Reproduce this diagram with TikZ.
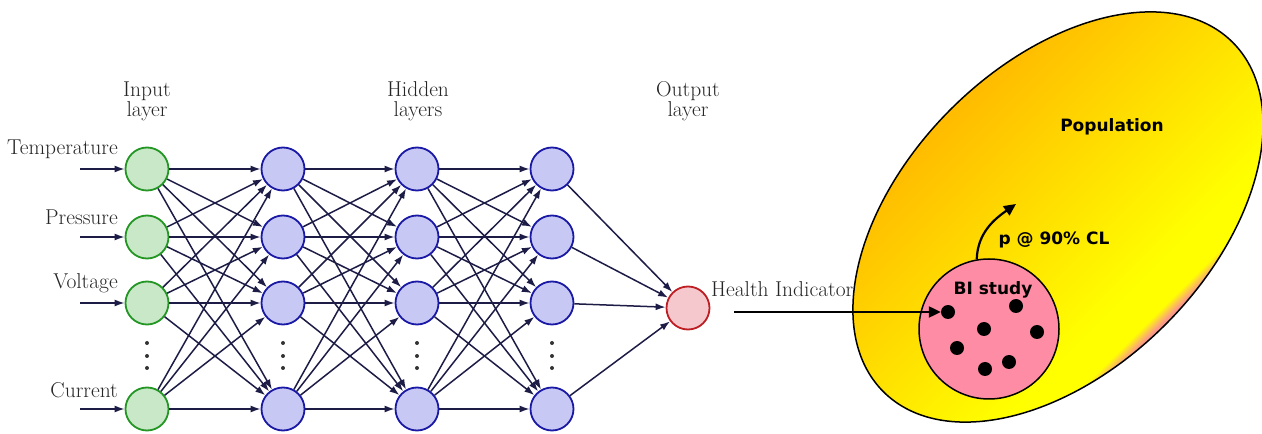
\documentclass[tikz,border=0pt]{standalone}
\usepackage{fontspec}
\newfontfamily\popfont{DejaVu Sans}
\usetikzlibrary{arrows.meta, positioning, calc}

\definecolor{inGreen}{RGB}{35,150,35}
\definecolor{inFill}{RGB}{200,232,200}
\definecolor{hidBlue}{RGB}{25,25,165}
\definecolor{hidFill}{RGB}{200,200,245}
\definecolor{outRed}{RGB}{190,30,35}
\definecolor{outFill}{RGB}{245,200,205}
\definecolor{linkNavy}{RGB}{28,28,70}
\definecolor{popOrange}{RGB}{255,188,0}
\definecolor{popYellow}{RGB}{255,255,0}
\definecolor{popPink}{RGB}{250,150,140}
\definecolor{biPink}{RGB}{255,140,165}

\pgfdeclareverticalshading{popshade}{100bp}{color(0bp)=(popPink); color(32.9bp)=(popPink); color(34.2bp)=(popYellow); color(38bp)=(popYellow); color(67bp)=(popOrange); color(100bp)=(popOrange)}

\begin{document}
\begin{tikzpicture}[
    x=1pt, y=1pt,
    neuron/.style={circle, line width=1.8pt, minimum size=43pt, inner sep=0pt},
    inneuron/.style={neuron, draw=inGreen, fill=inFill},
    hidneuron/.style={neuron, draw=hidBlue, fill=hidFill},
    outneuron/.style={neuron, draw=outRed, fill=outFill},
    link/.style={line width=1.5pt, draw=linkNavy, -{Latex[length=10pt,width=7pt]}},
    nnlabel/.style={font=\fontsize{21.5}{20}\selectfont, text=black!85, align=center, inner sep=0pt},
    poplabel/.style={font=\popfont\bfseries\fontsize{17}{20}\selectfont, inner sep=0pt},
    bigarrow/.style={line width=2.2pt, -{Triangle[length=12pt,width=11pt]}},
    sample/.style={circle, fill=black, minimum size=14pt, inner sep=0pt}
]
\useasboundingbox (0,0) rectangle (1262,434);

% population, behind everything else
\coordinate (popc) at (1058,217);
\shadedraw[shading=popshade, shading angle=45, line width=1.5pt, rotate around={45:(popc)}] (popc) ellipse [x radius=247, y radius=152];
\node[poplabel] (pop) at (1112,307) {Population};

% layer titles
\node[nnlabel] (inlayer) at (147,333) {Input\\layer};
\node[nnlabel] (hidlayer) at (418,333) {Hidden\\layers};
\node[nnlabel] (outlayer) at (688,333) {Output\\layer};

% neurons
\foreach \n/\y in {1/265,2/197,3/131,4/25} {
    \node[inneuron] (in\n) at (147,\y) {};
    \node[hidneuron] (ha\n) at (283,\y) {};
    \node[hidneuron] (hb\n) at (417,\y) {};
    \node[hidneuron] (hc\n) at (552,\y) {};
    \coordinate (src\n) at (80,\y);
    \draw[link] (src\n) -- (in\n);
}
\node[outneuron] (out) at (688,126) {};

% vertical dots
\foreach \x in {147,283,417,552}
    \foreach \y in {91,78,66}
        \fill[black!80] (\x,\y) circle (2);

% input names
\node[nnlabel, anchor=east] (temp) at (118,285) {Temperature};
\node[nnlabel, anchor=east] (pres) at (118,217) {Pressure};
\node[nnlabel, anchor=east] (volt) at (118,151) {Voltage};
\node[nnlabel, anchor=east] (curr) at (118,44) {Current};

% links
\foreach \i in {1,...,4} {
    \foreach \j in {1,...,4} {
        \draw[link] (in\i) -- (ha\j);
        \draw[link] (ha\i) -- (hb\j);
        \draw[link] (hb\i) -- (hc\j);
    }
    \draw[link] (hc\i) -- (out);
}

\node[nnlabel, anchor=west] (hi) at (711,145) {Health Indicator};

% BI study sample
\node[circle, draw, line width=1.5pt, fill=biPink, minimum size=140pt] (bi) at (989,105) {};
\node[poplabel] (bilabel) at (993,144) {BI study};
\node[sample] (d1) at (948,122) {};
\node[sample] (d2) at (1016,128) {};
\node[sample] (d3) at (984,105) {};
\node[sample] (d4) at (1037,102) {};
\node[sample] (d5) at (957,86) {};
\node[sample] (d6) at (1009,72) {};
\node[sample] (d7) at (985,65) {};

\draw[bigarrow, shorten <=24pt] (out.east |- d1) -- (d1);

\coordinate (infer) at (1016,230);
\draw[bigarrow] (bi.100) to[out=88, in=215] (infer);
\node[poplabel] (conf) at (1054,194) {p @ 90\% CL};

\end{tikzpicture}
\end{document}
